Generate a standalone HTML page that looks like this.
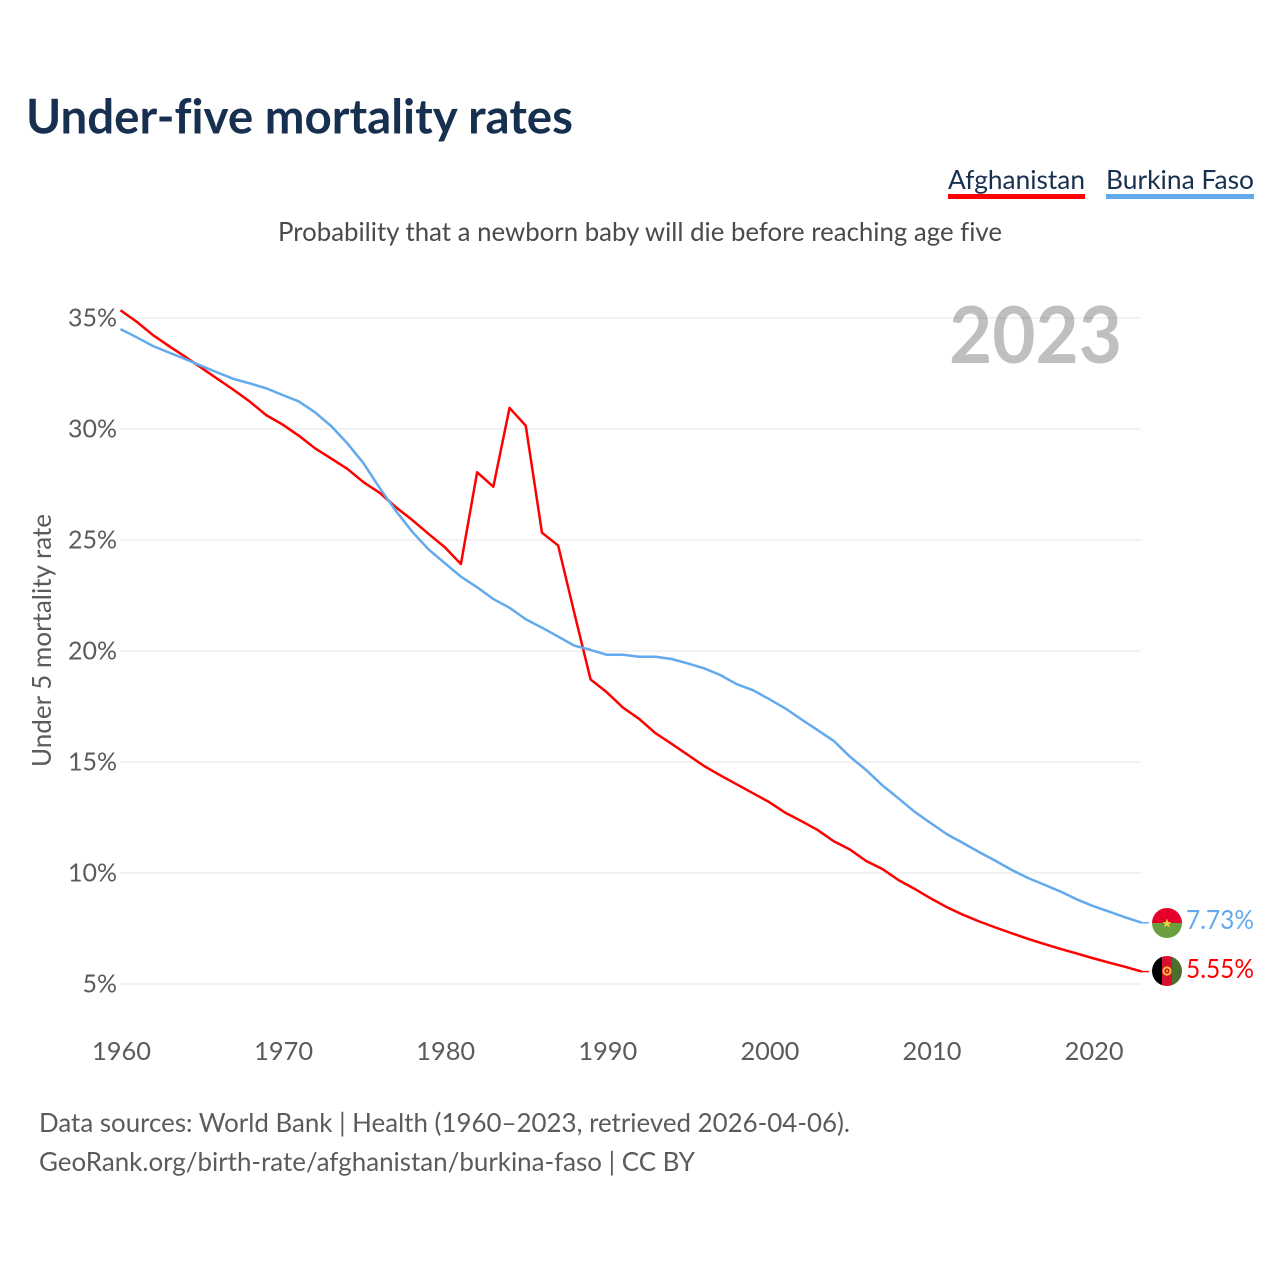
<!DOCTYPE html>
<html lang="en">
<head>
<meta charset="utf-8">
<title>Under-five mortality rates</title>
<style>
html,body{margin:0;padding:0;background:#fff}
svg{display:block}
text{font-family:"Lato","Carlito","Liberation Sans",sans-serif;font-variant-ligatures:none}
</style>
</head>
<body>
<svg id="chart" xmlns="http://www.w3.org/2000/svg" width="1280" height="1280" viewBox="0 0 1280 1280">
  <defs>
    <clipPath id="clip-bf"><circle cx="1167" cy="923" r="15"/></clipPath>
    <clipPath id="clip-af"><circle cx="1167" cy="971" r="15"/></clipPath>
  </defs>
  <rect width="1280" height="1280" fill="#fff"/>
  <text x="26" y="133.5" font-size="47.5" font-weight="700" fill="#18304f" textLength="547" lengthAdjust="spacingAndGlyphs">Under-five mortality rates</text>

  <g>
    <text x="948" y="189" font-size="26.5" fill="#18304f" textLength="137" lengthAdjust="spacingAndGlyphs">Afghanistan</text>
    <rect x="948" y="194" width="137" height="5" fill="#ff0000"/>
  </g>
  <g>
    <text x="1106" y="189" font-size="26.5" fill="#18304f" textLength="148" lengthAdjust="spacingAndGlyphs">Burkina Faso</text>
    <rect x="1106" y="194" width="148" height="5" fill="#63a9ee"/>
  </g>

  <text x="278" y="241" font-size="26.5" fill="#4a4a4a" textLength="724" lengthAdjust="spacingAndGlyphs">Probability that a newborn baby will die before reaching age five</text>

  <g id="grid"></g>
  <text x="949" y="363" font-size="78.5" font-weight="700" fill="#000" fill-opacity="0.25" textLength="173" lengthAdjust="spacingAndGlyphs">2023</text>
  <g id="y-ticks"></g>
  <g id="x-ticks"></g>
  <text transform="translate(51,767) rotate(-90)" x="0" y="0" font-size="26" fill="#5b5b5b" textLength="253" lengthAdjust="spacingAndGlyphs">Under 5 mortality rate</text>

  <g id="series"></g>

  <g clip-path="url(#clip-bf)">
    <rect x="1152" y="908" width="30" height="15" fill="#e4002b"/>
    <rect x="1152" y="923" width="30" height="15" fill="#6a9e3f"/>
    <polygon points="1167,918.5 1168.2,922 1171.5,922 1168.8,924 1169.8,927.5 1167,925.4 1164.2,927.5 1165.2,924 1162.5,922 1165.8,922" fill="#f5d33c"/>
  </g>
  <g clip-path="url(#clip-af)">
    <rect x="1152" y="956" width="10" height="30" fill="#000"/>
    <rect x="1162" y="956" width="10" height="30" fill="#d80f2e"/>
    <rect x="1172" y="956" width="10" height="30" fill="#4a6f2f"/>
    <circle cx="1167" cy="971" r="3.6" fill="none" stroke="#f2c230" stroke-width="2"/>
    <circle cx="1167" cy="971" r="1" fill="#f2c230"/>
  </g>
  <text id="value-bf" x="1186" y="929" font-size="26" fill="#63a9ee" textLength="68" lengthAdjust="spacingAndGlyphs">7.73%</text>
  <text id="value-af" x="1186" y="978" font-size="26" fill="#ff0000" textLength="68" lengthAdjust="spacingAndGlyphs">5.55%</text>

  <text x="39" y="1132" font-size="26.5" fill="#5b5b5b" textLength="811" lengthAdjust="spacingAndGlyphs">Data sources: World Bank | Health (1960–2023, retrieved 2026-04-06).</text>
  <text x="39" y="1171" font-size="26.5" fill="#5b5b5b" textLength="656" lengthAdjust="spacingAndGlyphs">GeoRank.org/birth-rate/afghanistan/burkina-faso | CC BY</text>
</svg>
<script>
const startYear = 1960;
const yTickValues = [5, 10, 15, 20, 25, 30, 35];
const xTickYears = [1960, 1970, 1980, 1990, 2000, 2010, 2020];
const afghanistan = [35.35,34.83,34.23,33.73,33.25,32.75,32.25,31.75,31.22,30.62,30.2,29.7,29.13,28.67,28.2,27.6,27.12,26.47,25.9,25.28,24.68,23.92,28.05,27.4,30.95,30.15,25.33,24.75,21.7,18.72,18.14,17.45,16.94,16.3,15.82,15.32,14.82,14.4,14.0,13.6,13.2,12.72,12.34,11.94,11.43,11.06,10.54,10.18,9.68,9.28,8.85,8.45,8.11,7.81,7.54,7.28,7.03,6.8,6.58,6.37,6.16,5.96,5.77,5.56];
const burkinaFaso = [34.5,34.13,33.74,33.44,33.15,32.84,32.54,32.25,32.05,31.83,31.53,31.24,30.75,30.13,29.35,28.45,27.33,26.3,25.37,24.58,23.96,23.35,22.87,22.34,21.95,21.43,21.05,20.65,20.24,20.05,19.83,19.83,19.74,19.74,19.64,19.44,19.22,18.92,18.51,18.24,17.84,17.42,16.92,16.44,15.95,15.24,14.64,13.95,13.36,12.75,12.24,11.74,11.34,10.93,10.54,10.13,9.77,9.47,9.16,8.81,8.51,8.26,8.0,7.76];

const NS = 'http://www.w3.org/2000/svg';
function xScale(year) { return 120.5 + (year - startYear) * 16.21; }
function yScale(v) { return 984 - (v - 5) * 22.2; }
function make(tag, parent, attrs, txt) {
  const el = document.createElementNS(NS, tag);
  for (const k in attrs) el.setAttribute(k, attrs[k]);
  if (txt !== undefined) el.textContent = txt;
  parent.appendChild(el);
  return el;
}

const gridGroup = document.getElementById('grid');
const yTickGroup = document.getElementById('y-ticks');
yTickValues.forEach(function (v) {
  const line = make('line', gridGroup, {x1: 120, x2: 1141, y1: yScale(v), y2: yScale(v), stroke: '#eeeeee', 'stroke-width': 1.6});
  
  
  const label = make('text', yTickGroup, {x: 117, y: yScale(v) + 8.5, 'font-size': 25, fill: '#5b5b5b', 'text-anchor': 'end'}, v + '%');
  
  
});

const xTickGroup = document.getElementById('x-ticks');
xTickYears.forEach(function (y) {
  const label = make('text', xTickGroup, {x: xScale(y) + 1, y: 1060, 'font-size': 25.4, fill: '#5b5b5b', 'text-anchor': 'middle'}, String(y));
  
  
});

const seriesGroup = document.getElementById('series');
function drawSeries(values, color, name) {
  const pts = values.map(function (v, i) { return xScale(startYear + i).toFixed(2) + ',' + yScale(v).toFixed(2); }).join(' ');
  const path = make('polyline', seriesGroup, {points: pts, fill: 'none', stroke: color, 'stroke-width': 2.5, 'stroke-linejoin': 'round'});
  
  
  const lastX = xScale(startYear + values.length - 1);
  const lastY = yScale(values[values.length - 1]);
  const connector = make('line', seriesGroup, {x1: lastX, x2: 1149, y1: lastY, y2: lastY, stroke: color, 'stroke-width': 1.5});
  
  
}
drawSeries(afghanistan, '#ff0000', 'afghanistan');
drawSeries(burkinaFaso, '#63a9ee', 'burkina-faso');
</script>
</body>
</html>
